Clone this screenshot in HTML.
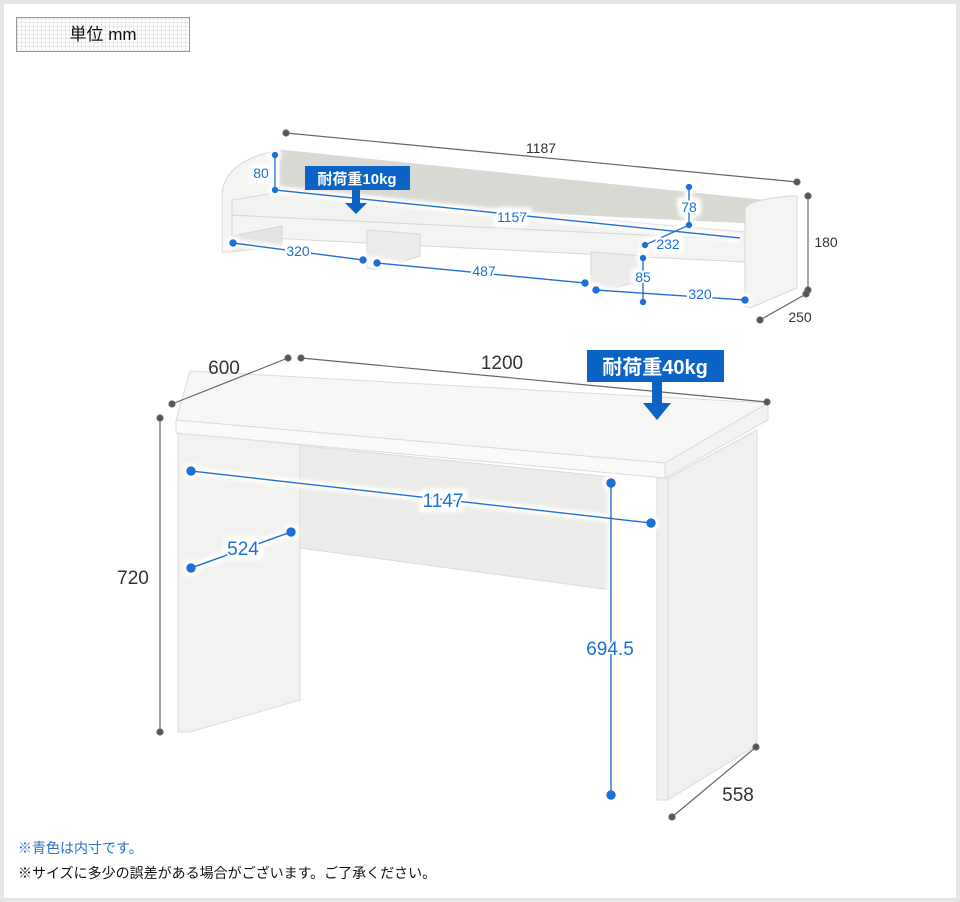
<!DOCTYPE html>
<html><head><meta charset="utf-8"><style>
html,body{margin:0;padding:0}
body{width:960px;height:902px;position:relative;background:#fff;font-family:"Liberation Sans","Noto Sans CJK JP",sans-serif;overflow:hidden}
.frame{position:absolute;left:0;top:0;width:952px;height:894px;border:4px solid #e6e6e6}
.unit{position:absolute;left:16px;top:17px;width:172px;height:33px;border:1px solid #999;background-color:#fff;
background-image:linear-gradient(#e8e8e8 1px,transparent 1px),linear-gradient(90deg,#e8e8e8 1px,transparent 1px);background-size:4px 4px;
font-size:17px;line-height:33px;text-align:center;color:#111}
.n1{position:absolute;left:18px;top:838px;font-size:14px;color:#2a6fc9}
.n2{position:absolute;left:18px;top:863px;font-size:14px;color:#111}
svg{position:absolute;left:0;top:0}
</style></head><body>
<div class="frame"></div>
<div class="unit">単位 mm</div>
<svg width="960" height="902" viewBox="0 0 960 902" font-family="Liberation Sans, Noto Sans CJK JP, sans-serif">
<defs>
<filter id="g" x="-20%" y="-20%" width="140%" height="140%"><feMorphology operator="dilate" radius="2" in="SourceAlpha" result="d"/><feGaussianBlur in="d" stdDeviation="2" result="b"/><feFlood flood-color="#fff"/><feComposite in2="b" operator="in"/><feMerge><feMergeNode/><feMergeNode/><feMergeNode in="SourceGraphic"/></feMerge></filter>
</defs>
<!-- shelf -->
<g stroke="#d8d8d8" stroke-width="1">
<path d="M280,150 L790,203 L790,225 L280,200 Z" fill="#d9d9d4"/>
<path d="M230,200 L280,192 L745,232 L745,240 L228,215 Z" fill="#f2f2f0"/>
<path d="M228,215 L745,240 L745,262 L228,236 Z" fill="#f4f4f2"/>
<path d="M232,236 L282,226 L282,246 L232,252 Z" fill="#e4e4e2"/>
<path d="M367,230 L420,234 L420,256 L376,270 L367,268 Z" fill="#ececea"/>
<path d="M591,252 L645,256 L645,280 L600,292 L591,290 Z" fill="#ececea"/>
<path d="M222,252 L222,195 Q224,160 280,150 L280,192 L232,200 L232,252 Z" fill="#f5f5f3"/>
<path d="M745,210 Q746,200 790,196 L797,196 L797,288 L750,308 L745,306 Z" fill="#f4f4f2"/>
</g>
<!-- desk -->
<g stroke="#dcdcdc" stroke-width="1">
<path d="M295,445 L612,477 L612,590 L300,548 Z" fill="#ececea"/>
<path d="M178,432 L300,445 L300,700 L190,732 L178,732 Z" fill="#f2f2f0"/>
<path d="M657,478 L668,478 L668,800 L657,800 Z" fill="#f0f0ee"/>
<path d="M668,478 L757,430 L757,745 L668,800 Z" fill="#f0f0ee"/>
<path d="M190,371 L768,403 L665,463 L176,420 Z" fill="#f7f7f6"/>
<path d="M176,420 L665,463 L665,478 L176,433 Z" fill="#fafafa"/>
<path d="M665,463 L768,403 L768,420 L665,478 Z" fill="#f3f3f2"/>
</g>
<!-- gray dims -->
<g stroke="#666" stroke-width="1.2" fill="#555">
<line x1="286" y1="133" x2="797" y2="182"/><circle cx="286" cy="133" r="3"/><circle cx="797" cy="182" r="3"/>
<line x1="808" y1="196" x2="808" y2="290"/><circle cx="808" cy="196" r="3"/><circle cx="808" cy="290" r="3"/>
<line x1="760" y1="320" x2="806" y2="294"/><circle cx="760" cy="320" r="3"/><circle cx="806" cy="294" r="3"/>
<line x1="172" y1="404" x2="288" y2="358"/><circle cx="172" cy="404" r="3"/><circle cx="288" cy="358" r="3"/>
<line x1="301" y1="358" x2="767" y2="402"/><circle cx="301" cy="358" r="3"/><circle cx="767" cy="402" r="3"/>
<line x1="160" y1="418" x2="160" y2="732"/><circle cx="160" cy="418" r="3"/><circle cx="160" cy="732" r="3"/>
<line x1="672" y1="817" x2="756" y2="747"/><circle cx="672" cy="817" r="3"/><circle cx="756" cy="747" r="3"/>
</g>
<g fill="#333" font-size="14" text-anchor="middle">
<text x="541" y="153">1187</text><text x="826" y="247">180</text><text x="800" y="322">250</text>
</g>
<g fill="#333" font-size="19" text-anchor="middle">
<text x="224" y="374">600</text><text x="502" y="369">1200</text><text x="133" y="584">720</text><text x="738" y="801">558</text>
</g>
<!-- blue dims -->
<g filter="url(#g)">
<g stroke="#1a6fd6" stroke-width="1.5" fill="#1a6fd6">
<line x1="275" y1="155" x2="275" y2="190"/><circle cx="275" cy="155" r="2.5"/><circle cx="275" cy="190" r="2.5"/>
<line x1="275" y1="190" x2="740" y2="238"/>
<line x1="689" y1="187" x2="689" y2="225"/><circle cx="689" cy="187" r="2.5"/><circle cx="689" cy="225" r="2.5"/>
<line x1="689" y1="225" x2="645" y2="245"/><circle cx="645" cy="245" r="2.5"/>
<line x1="233" y1="243" x2="363" y2="260"/><circle cx="233" cy="243" r="3"/><circle cx="363" cy="260" r="3"/>
<line x1="377" y1="263" x2="585" y2="283"/><circle cx="377" cy="263" r="3"/><circle cx="585" cy="283" r="3"/>
<line x1="643" y1="258" x2="643" y2="302"/><circle cx="643" cy="258" r="2.5"/><circle cx="643" cy="302" r="2.5"/>
<line x1="596" y1="290" x2="745" y2="300"/><circle cx="596" cy="290" r="3"/><circle cx="745" cy="300" r="3"/>
<line x1="191" y1="471" x2="651" y2="523"/><circle cx="191" cy="471" r="4"/><circle cx="651" cy="523" r="4"/>
<line x1="191" y1="568" x2="291" y2="532"/><circle cx="191" cy="568" r="4"/><circle cx="291" cy="532" r="4"/>
<line x1="611" y1="483" x2="611" y2="795"/><circle cx="611" cy="483" r="4"/><circle cx="611" cy="795" r="4"/>
</g>
<g fill="#1a6fd6" text-anchor="middle" stroke="#fff" stroke-width="4" paint-order="stroke">
<g font-size="14"><text x="261" y="178">80</text><text x="689" y="212">78</text><text x="512" y="222">1157</text><text x="668" y="249">232</text><text x="298" y="256">320</text><text x="484" y="276">487</text><text x="643" y="282">85</text><text x="700" y="299">320</text></g>
<g font-size="19"><text x="443" y="507">1147</text><text x="243" y="555">524</text><text x="610" y="655">694.5</text></g>
</g>
</g>
<!-- load boxes -->
<rect x="305" y="166" width="105" height="24" fill="#0b63c5"/>
<text x="357" y="184" fill="#fff" font-size="15" font-weight="bold" text-anchor="middle">耐荷重10kg</text>
<rect x="352" y="190" width="8" height="14" fill="#0b63c5"/><path d="M345,203 L367,203 L356,214 Z" fill="#0b63c5"/>
<rect x="587" y="350" width="137" height="32" fill="#0b63c5"/>
<text x="655" y="374" fill="#fff" font-size="20" font-weight="bold" text-anchor="middle">耐荷重40kg</text>
<rect x="652" y="382" width="10" height="23" fill="#0b63c5"/><path d="M643,403 L671,403 L657,420 Z" fill="#0b63c5"/>
</svg>
<div class="n1">※青色は内寸です。</div>
<div class="n2">※サイズに多少の誤差がある場合がございます。ご了承ください。</div>
</body></html>
